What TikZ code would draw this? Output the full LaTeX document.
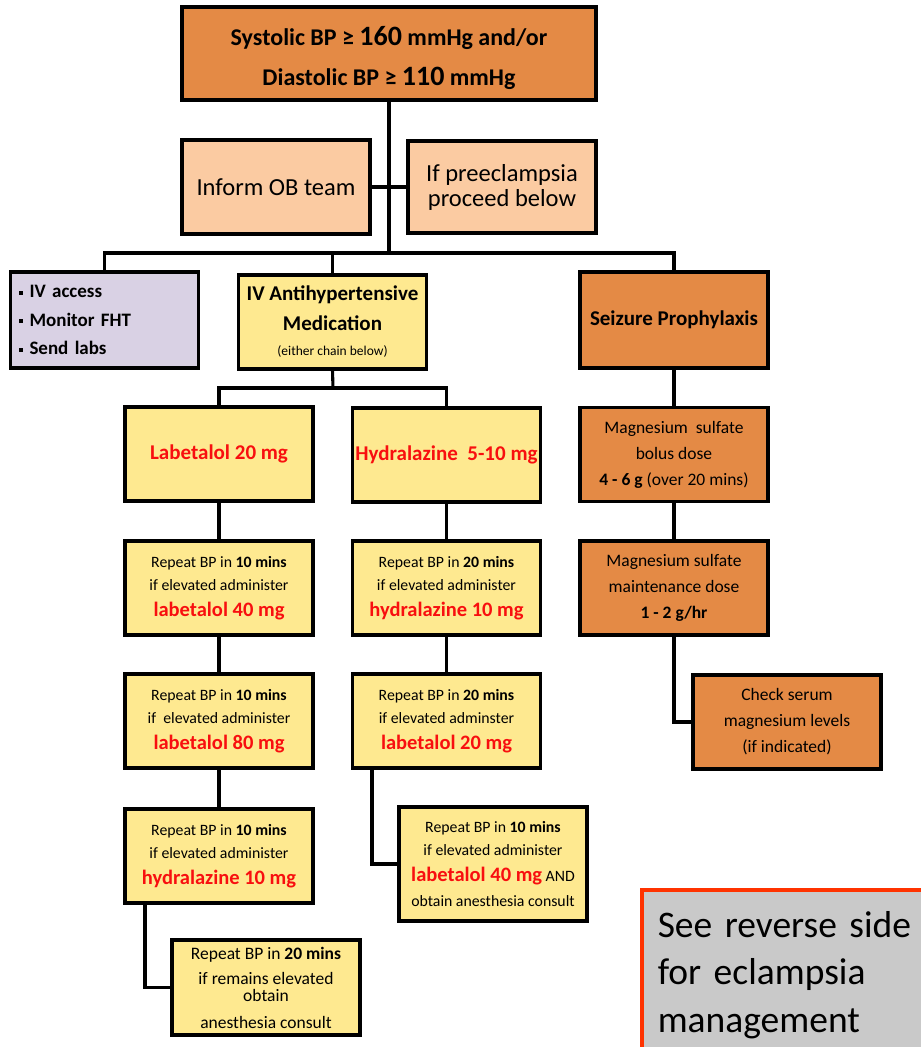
\documentclass[tikz,border=0pt]{standalone}
\usepackage{fontspec}
\setmainfont{Carlito}
\usetikzlibrary{positioning}
\definecolor{bporange}{HTML}{E48A45}
\definecolor{bppeach}{HTML}{FBCBA2}
\definecolor{bplilac}{HTML}{D9D1E4}
\definecolor{bpyellow}{HTML}{FEE990}
\definecolor{bpgrey}{HTML}{C9C9C9}
\definecolor{bpred}{HTML}{F80F0F}
\definecolor{bpframe}{HTML}{FF3300}
\newcommand{\redbf}[1]{{\fontsize{20.5}{22}\selectfont\bfseries\color{bpred}#1}}
\newcommand{\sqbul}{\raisebox{3pt}{\rule{4pt}{4pt}}\hspace{7pt}}
\tikzset{
    box/.style={draw, line width=3.1pt, minimum width=188, minimum height=94,
        align=center, inner sep=1pt},
    orangebox/.style={box, fill=bporange},
    peachbox/.style={box, fill=bppeach},
    yellowbox/.style={box, fill=bpyellow},
    link/.style={line width=3.1pt}
}

\begin{document}
\begin{tikzpicture}[x=1pt, y=-1pt]
    \useasboundingbox (0, 0) rectangle (921, 1047);
    \node[orangebox, minimum width=414, minimum height=93,
        font=\fontsize{24}{40}\selectfont\bfseries] (bp) at (389, 53.5)
        {\rule{0pt}{29pt}Systolic BP ≥ {\fontsize{28}{40}\selectfont 160} mmHg and/or\\
         Diastolic BP ≥ {\fontsize{28}{40}\selectfont 110} mmHg};
    \node[peachbox, font=\fontsize{24.5}{25}\selectfont] (inform) at (276, 187) {Inform OB team};
    \node[peachbox, minimum height=92, font=\fontsize{24.5}{25}\selectfont] (preecl) at (502, 187)
        {If preeclampsia\\proceed below};
    \coordinate (bus) at (389, 253);
    \node[box, fill=bplilac, minimum height=96, align=left, text width=172, inner xsep=7,
        font=\fontsize{19}{28.5}\selectfont\bfseries] (ivacc) at (104.5, 320)
        {\sqbul IV access\\\sqbul Monitor FHT\\\sqbul Send labs};
    \node[yellowbox, font=\fontsize{21}{30}\selectfont\bfseries] (antihyp) at (332.5, 322)
        {IV Antihypertensive\\Medication\\[-5pt]
         {\fontsize{13.5}{14}\selectfont\mdseries (either chain below)}};
    \node[orangebox, minimum height=96, font=\fontsize{21}{22}\selectfont\bfseries] (seizure) at (674, 320)
        {Seizure Prophylaxis};
    \coordinate (split) at (333, 388);
    \node[yellowbox, font=\fontsize{21}{22}\selectfont\bfseries\color{bpred}] (lab1) at (219, 454)
        {Labetalol 20 mg};
    \node[yellowbox, font=\fontsize{15.8}{23}\selectfont] (lab2) at (219, 588)
        {Repeat BP in \textbf{10 mins}\\if elevated administer\\[3pt]\redbf{labetalol 40 mg}};
    \node[yellowbox, font=\fontsize{15.8}{23}\selectfont] (lab3) at (219, 721)
        {Repeat BP in \textbf{10 mins}\\if\ \ elevated administer\\[3pt]\redbf{labetalol 80 mg}};
    \node[yellowbox, font=\fontsize{15.8}{23}\selectfont] (lab4) at (219, 856)
        {Repeat BP in \textbf{10 mins}\\if elevated administer\\[3pt]\redbf{hydralazine 10 mg}};
    \node[yellowbox, minimum height=95, font=\fontsize{17.5}{17}\selectfont] (lab5) at (266, 987.5)
        {Repeat BP in \textbf{20 mins}\\[8pt]if remains elevated\\obtain\\[10pt]anesthesia consult};
    \node[yellowbox, font=\fontsize{21}{22}\selectfont\bfseries\color{bpred}] (hyd1) at (446.5, 455)
        {Hydralazine\ \ 5-10 mg};
    \node[yellowbox, font=\fontsize{15.8}{23}\selectfont] (hyd2) at (446.5, 588)
        {Repeat BP in \textbf{20 mins}\\if elevated administer\\[3pt]\redbf{hydralazine 10 mg}};
    \node[yellowbox, font=\fontsize{15.8}{23}\selectfont] (hyd3) at (446.5, 721)
        {Repeat BP in \textbf{20 mins}\\if elevated adminster\\[3pt]\redbf{labetalol 20 mg}};
    \node[yellowbox, minimum height=114, font=\fontsize{15.8}{23}\selectfont] (hyd4) at (493, 864)
        {Repeat BP in \textbf{10 mins}\\if elevated administer\\[3pt]\redbf{labetalol 40 mg} AND\\[2pt]
         obtain anesthesia consult};
    \node[orangebox, font=\fontsize{17.5}{26}\selectfont] (bolus) at (674, 454.5)
        {Magnesium\ \ sulfate\\bolus dose\\\textbf{4 - 6 g} (over 20 mins)};
    \node[orangebox, font=\fontsize{17.5}{26}\selectfont] (maint) at (674, 588)
        {Magnesium sulfate\\maintenance dose\\\textbf{1 - 2 g/hr}};
    \node[orangebox, font=\fontsize{17.5}{26}\selectfont] (serum) at (787, 722)
        {Check serum\\magnesium levels\\(if indicated)};
    \node[draw=bpframe, fill=bpgrey, line width=3.5pt, anchor=north west,
        minimum height=170, text width=275, align=left, inner xsep=16, inner ysep=0pt,
        font=\fontsize{37.5}{47.5}\selectfont] (reverse) at (640, 888)
        {See reverse side\\for eclampsia\\management};
    \draw[link] (bp) -- (bus);
    \draw[link] (inform) -- (preecl);
    \draw[link] (ivacc.north) |- (bus) -| (seizure.north);
    \draw[link] (antihyp.north) -- (antihyp.north |- bus);
    \draw[link] (antihyp.south) -- (split);
    \draw[link] (lab1.north) |- (split) -| (hyd1.north);
    \draw[link] (lab1) -- (lab2);
    \draw[link] (lab2) -- (lab3);
    \draw[link] (lab3) -- (lab4);
    \draw[link] ([xshift=-74]lab4.south) |- (lab5.west);
    \draw[link] (hyd1) -- (hyd2);
    \draw[link] (hyd2) -- (hyd3);
    \draw[link] ([xshift=-74.5]hyd3.south) |- (hyd4.west);
    \draw[link] (seizure) -- (bolus);
    \draw[link] (bolus) -- (maint);
    \draw[link] (maint.south) |- (serum.west);
\end{tikzpicture}
\end{document}
